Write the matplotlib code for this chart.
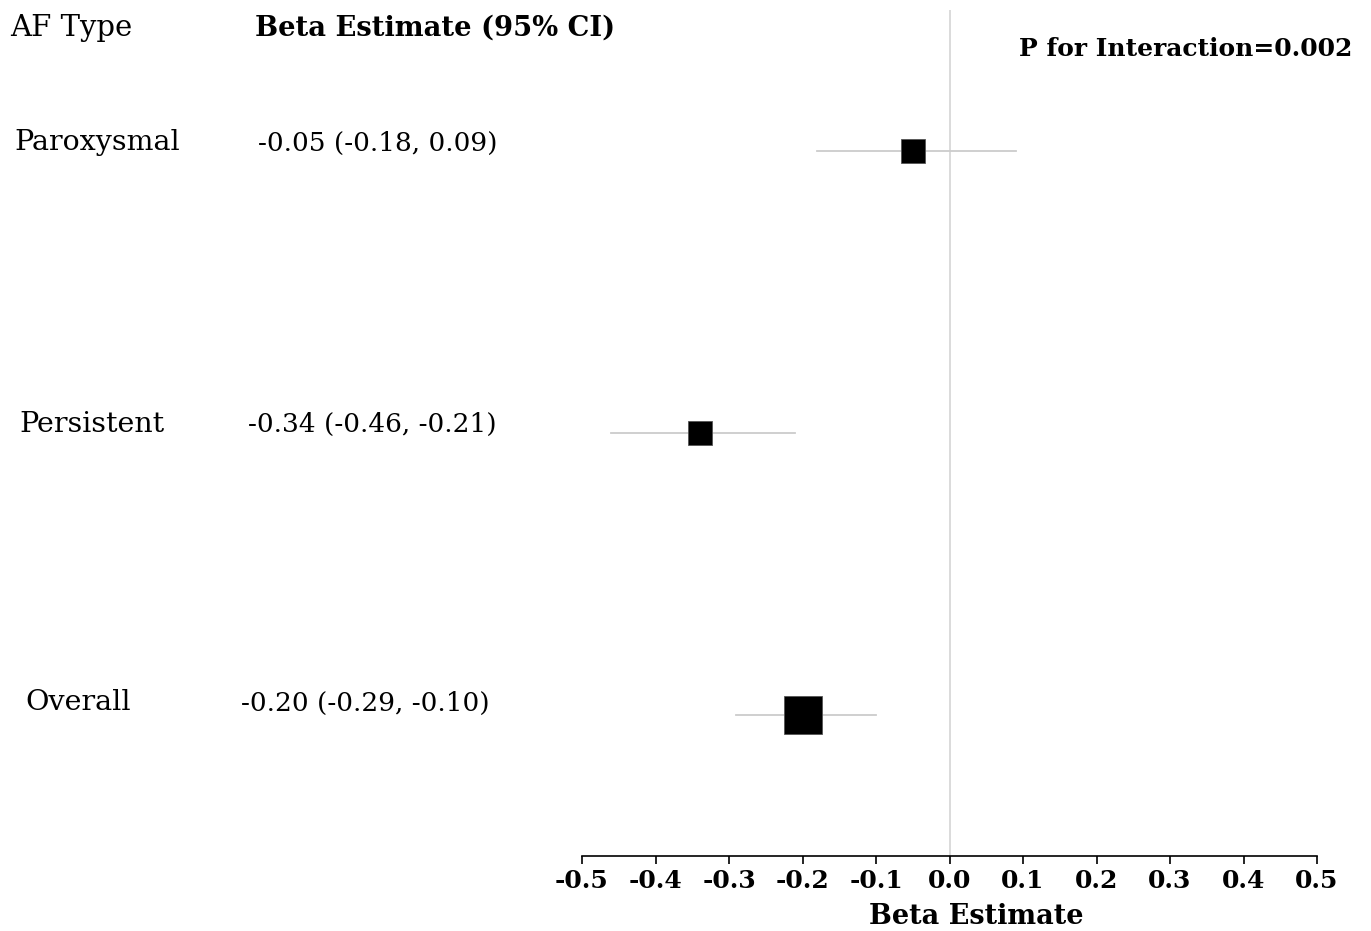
import matplotlib
matplotlib.use('Agg')
import matplotlib.pyplot as plt

plt.rcParams['font.family'] = ['DejaVu Serif']

# data
groups = ['Paroxysmal', 'Persistent', 'Overall']
beta = [-0.05, -0.34, -0.20]
lower = [-0.18, -0.46, -0.29]
upper = [0.09, -0.21, -0.10]
p_interaction = '0.002'
xticks = [-0.5, -0.4, -0.3, -0.2, -0.1, 0.0, 0.1, 0.2, 0.3, 0.4, 0.5]

W, H = 1371, 931
fig = plt.figure(figsize=(W / 100, H / 100), dpi=100)

def fx(px):
    return px / W

def fy(py):
    return 1 - py / H

ax = fig.add_axes([fx(582), fy(856), fx(1317) - fx(582), fy(10) - fy(856)])

ypos = [3, 2, 1]
msizes = [17, 17, 27]

ax.axvline(0, color='#d4d4d4', lw=1.2, zorder=1)
for y, b, lo, hi, ms in zip(ypos, beta, lower, upper, msizes):
    ax.plot([lo, hi], [y + 0 * lo, y + 0 * hi], color='#cccccc', lw=1.3, zorder=2)
    ax.plot([b], [y], marker='s', ms=ms, color='black', mec='#555555', mew=0.6, zorder=3)

ax.set_xlim(-0.5, 0.5)
ax.set_ylim(0.5, 3.5)
ax.set_xticks(xticks)
ax.set_xticklabels(['%.1f' % t for t in xticks], fontsize=18, fontweight='bold')
ax.set_yticks([])
for s in ['top', 'right', 'left']:
    ax.spines[s].set_visible(False)
ax.spines['bottom'].set_linewidth(1.2)
ax.tick_params(axis='x', direction='out', length=6, width=1.2, pad=3)
ax.set_xlabel('Beta Estimate', fontsize=19.5, fontweight='bold')
ax.xaxis.set_label_coords(0.537, -0.056)

# header
fig.text(fx(10), fy(28), 'AF Type', fontsize=21, va='center', ha='left')
fig.text(fx(255), fy(28), 'Beta Estimate (95% CI)', fontsize=19.7, fontweight='bold',
         va='center', ha='left')
fig.text(fx(1352), fy(49), 'P for Interaction=' + p_interaction, fontsize=18,
         fontweight='bold', va='center', ha='right')

# row labels
label_x = [14, 19, 25]
label_y = [143, 424, 703]
ci_right = [497, 497, 490]
for g, b, lo, hi, lx, ly, cr in zip(groups, beta, lower, upper, label_x, label_y, ci_right):
    fig.text(fx(lx), fy(ly), g, fontsize=20.5, va='center', ha='left')
    fig.text(fx(cr), fy(ly), '%.2f (%.2f, %.2f)' % (b, lo, hi), fontsize=19,
             va='center', ha='right')

fig.savefig('out.png', dpi=100)
